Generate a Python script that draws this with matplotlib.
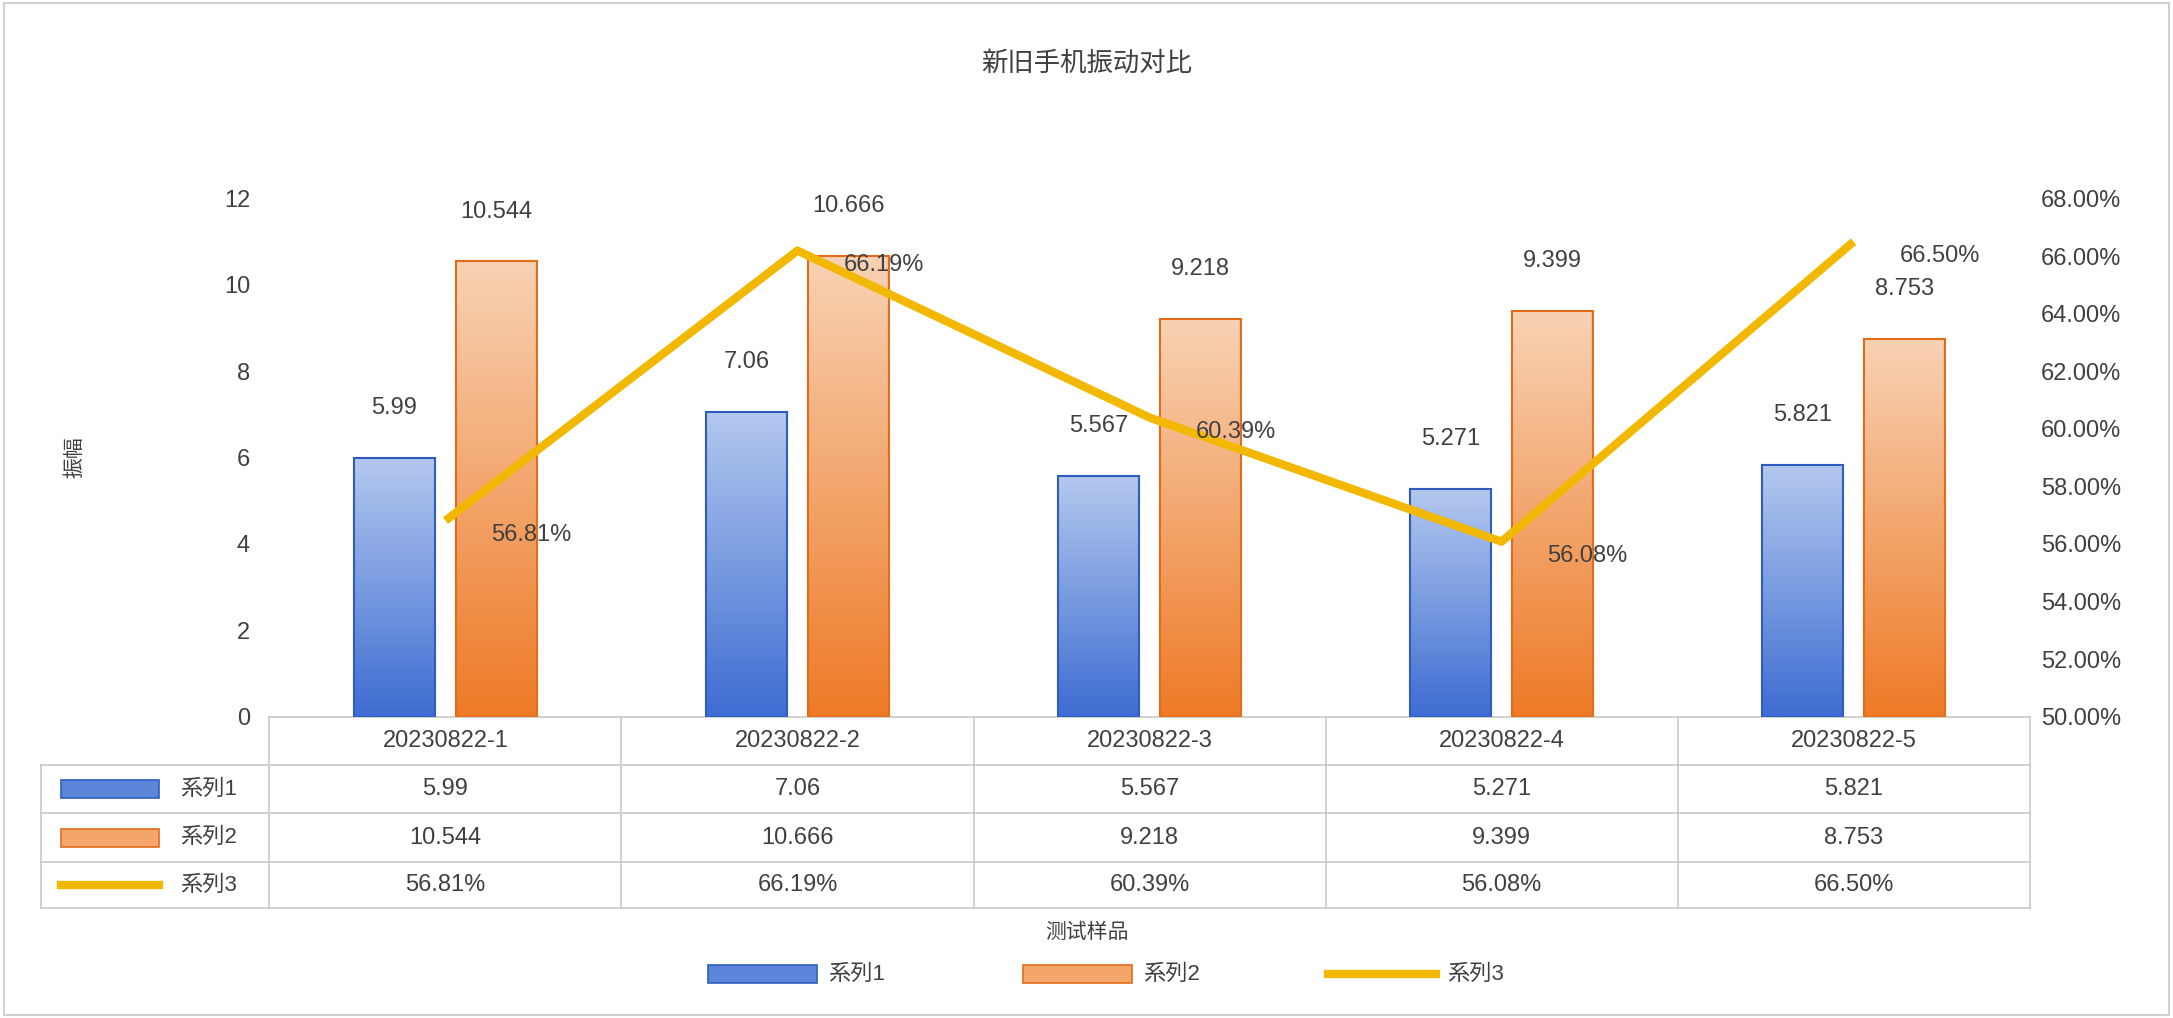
import numpy as np
import matplotlib
matplotlib.use("Agg")
import matplotlib.pyplot as plt
from matplotlib import font_manager
from matplotlib.transforms import blended_transform_factory
from matplotlib.colors import LinearSegmentedColormap
from matplotlib.patches import Rectangle
from matplotlib.lines import Line2D

cjk = None
for f in font_manager.fontManager.ttflist:
    if "CJK" in f.name and ("SC" in f.name or cjk is None):
        cjk = f.name
plt.rcParams["font.family"] = ["Liberation Sans", cjk or "DejaVu Sans", "DejaVu Sans"]

categories = ["20230822-1", "20230822-2", "20230822-3", "20230822-4", "20230822-5"]
series1 = [5.99, 7.06, 5.567, 5.271, 5.821]
series2 = [10.544, 10.666, 9.218, 9.399, 8.753]
series3 = [56.81, 66.19, 60.39, 56.08, 66.50]
series1_labels = ["5.99", "7.06", "5.567", "5.271", "5.821"]
series2_labels = ["10.544", "10.666", "9.218", "9.399", "8.753"]
series_names = ["系列1", "系列2", "系列3"]

W, H = 2173, 1018
fig = plt.figure(figsize=(W/100, H/100), dpi=100)
fig.patches.append(Rectangle((0.002, 0.003), 0.996, 0.994, transform=fig.transFigure,
                             fill=False, ec="#d0d0d0", lw=1.5))
ax = fig.add_axes([0.124, 0.296, 0.81, 0.509])
ax2 = ax.twinx()

blue = LinearSegmentedColormap.from_list("b", ["#3d6dd2", "#b4c8ee"])
orange = LinearSegmentedColormap.from_list("o", ["#ee7a26", "#f8d2b4"])
grad = np.linspace(0, 1, 256).reshape(-1, 1)
x = np.arange(len(categories))
w = 0.23
off = 0.145
for i in range(len(x)):
    for val, cx, cm, ec in [(series1[i], x[i]-off, blue, "#2f5cbf"), (series2[i], x[i]+off, orange, "#e36c1a")]:
        ax.imshow(grad, cmap=cm, origin="lower", aspect="auto",
                  extent=[cx-w/2, cx+w/2, 0, val], zorder=2)
        ax.add_patch(Rectangle((cx-w/2, 0), w, val, fill=False, ec=ec, lw=1.5, zorder=3))
    ax.text(x[i]-off, series1[i]+0.9, series1_labels[i], ha="center", va="bottom", fontsize=17, color="#404040")
    ax.text(x[i]+off, series2[i]+0.9, series2_labels[i], ha="center", va="bottom", fontsize=17, color="#404040")

ax.set_xlim(-0.5, 4.5)
ax.set_ylim(0, 12)
ax.set_yticks(range(0, 13, 2))
ax.set_xticks([])
for s in ax.spines.values(): s.set_visible(False)
for s in ax2.spines.values(): s.set_visible(False)
ax.tick_params(axis="y", length=0, labelsize=17, labelcolor="#404040", pad=14)
ax.set_ylabel("振幅", fontsize=15, color="#404040")
ax.yaxis.set_label_coords(-0.105, 0.5)
ax.grid(False)

ax2.plot(x, series3, color="#f2b800", lw=6, zorder=5, solid_capstyle="butt")
ax2.set_ylim(50, 68)
ax2.set_yticks(np.arange(50, 69, 2))
ax2.set_yticklabels([f"{v:.2f}%" for v in np.arange(50, 69, 2)])
ax2.tick_params(axis="y", length=0, labelsize=17, labelcolor="#404040", pad=8)
for i in range(len(x)):
    ax2.text(x[i]+0.13, series3[i]-0.5, f"{series3[i]:.2f}%", ha="left", va="center",
             fontsize=17, color="#404040", zorder=6)
ax.set_zorder(ax2.get_zorder()-1)
ax2.patch.set_visible(False)

tr = blended_transform_factory(ax.transData, fig.transFigure)
rows_y = [0.296, 0.249, 0.201, 0.153, 0.108]
lc = "#c8c8c8"
for yy in rows_y:
    if yy != rows_y[0]:
        fig.add_artist(Line2D([0.019, 0.124], [yy, yy], transform=fig.transFigure, color=lc, lw=1.2))
    ax.add_line(Line2D([-0.5, 4.5], [yy, yy], transform=tr, color=lc, lw=1.2, clip_on=False))
for b in np.arange(-0.5, 4.6, 1):
    ax.add_line(Line2D([b, b], [rows_y[-1], rows_y[0]], transform=tr, color=lc, lw=1.2, clip_on=False))
fig.add_artist(Line2D([0.019, 0.019], [rows_y[-1], rows_y[1]], transform=fig.transFigure, color=lc, lw=1.2))
for i, c in enumerate(categories):
    ax.text(x[i], (rows_y[0]+rows_y[1])/2, c, transform=tr, ha="center", va="center", fontsize=17, color="#404040")
    ax.text(x[i], (rows_y[1]+rows_y[2])/2, series1_labels[i], transform=tr, ha="center", va="center", fontsize=17, color="#404040")
    ax.text(x[i], (rows_y[2]+rows_y[3])/2, series2_labels[i], transform=tr, ha="center", va="center", fontsize=17, color="#404040")
    ax.text(x[i], (rows_y[3]+rows_y[4])/2, f"{series3[i]:.2f}%", transform=tr, ha="center", va="center", fontsize=17, color="#404040")

def key(xf, yc, kind, width=0.045):
    if kind == 0:
        fig.patches.append(Rectangle((xf, yc-0.009), width, 0.018, transform=fig.transFigure, fc="#5b86da", ec="#2f5cbf", lw=1.2))
    elif kind == 1:
        fig.patches.append(Rectangle((xf, yc-0.009), width, 0.018, transform=fig.transFigure, fc="#f3a56b", ec="#e36c1a", lw=1.2))
    else:
        fig.add_artist(Line2D([xf, xf+width], [yc, yc], transform=fig.transFigure, color="#f2b800", lw=6))

for k in range(3):
    yc = (rows_y[k+1]+rows_y[k+2])/2
    key(0.028, yc, k)
    fig.text(0.083, yc, series_names[k], ha="left", va="center", fontsize=16, color="#404040")

fig.text(0.5, 0.084, "测试样品", ha="center", va="center", fontsize=15, color="#404040")
lx = [0.326, 0.471, 0.611]
for k in range(3):
    key(lx[k], 0.043, k, width=0.05)
    fig.text(lx[k]+0.055, 0.043, series_names[k], ha="left", va="center", fontsize=16, color="#404040")

fig.text(0.5, 0.938, "新旧手机振动对比", ha="center", va="center", fontsize=19, color="#404040")
fig.savefig("out.png", dpi=100)
